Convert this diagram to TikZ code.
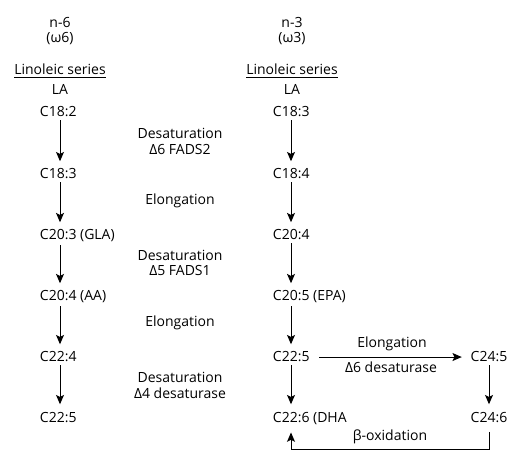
\documentclass[tikz,border=0pt]{standalone}
\usepackage{fontspec}
\setmainfont{Open Sans}
\usepackage{tikz}
\usetikzlibrary{arrows.meta}

\begin{document}
\begin{tikzpicture}[x=0.75pt, y=-0.75pt, font=\fontsize{10.5}{11.5}\selectfont]
                \tikzstyle{head} = [inner sep=2pt, anchor=base]
                \tikzstyle{acid} = [inner sep=2pt, anchor=base west]
                \tikzstyle{enzyme} = [inner sep=2pt, align=center]
                \tikzstyle{arrow} = [->, >={Stealth[length=7pt,width=6pt,inset=1.5pt]}, line width=0.75pt, shorten >=3.5pt]

                \useasboundingbox (0,0) rectangle (528,459);
                \coordinate (colL) at (60,0);
                \coordinate (colR) at (291,0);

                % n-6 series
                \node (n6) [head] at (60,28) {n-6};
                \node (w6) [head] at (60,43) {(ω6)};
                \node (serL) [head] at (60,75) {\underline{Linoleic series}};
                \node (laL) [head] at (60,95) {LA};
                \node (c182) [acid] at (37,117) {C18:2};
                \node (c183L) [acid] at (37,179) {C18:3};
                \node (c203) [acid] at (37,240) {C20:3 (GLA)};
                \node (c204L) [acid] at (37,301) {C20:4 (AA)};
                \node (c224) [acid] at (37,362) {C22:4};
                \node (c225L) [acid] at (37,422) {C22:5};

                % enzymes
                \node (des6) [enzyme] at (180,141.5) {Desaturation\\Δ6 FADS2};
                \node (elo1) [head] at (180,205) {Elongation};
                \node (des5) [enzyme] at (180,263) {Desaturation\\Δ5 FADS1};
                \node (elo2) [head] at (180,327) {Elongation};
                \node (des4) [enzyme] at (180,385.5) {Desaturation\\Δ4 desaturase};

                % n-3 series
                \node (n3) [head] at (292,28) {n-3};
                \node (w3) [head] at (292,43) {(ω3)};
                \node (serR) [head] at (292,75) {\underline{Linoleic series}};
                \node (laR) [head] at (292,95) {LA};
                \node (c183R) [acid] at (270,117) {C18:3};
                \node (c184) [acid] at (270,179) {C18:4};
                \node (c204R) [acid] at (270,240) {C20:4};
                \node (c205) [acid] at (270,301) {C20:5 (EPA)};
                \node (c225R) [acid] at (270,362) {C22:5};
                \node (c226) [acid] at (270,422) {C22:6 (DHA};
                \node (c245) [head] at (489,362) {C24:5};
                \node (c246) [head] at (489,422) {C24:6};
                \node (elo3) [head] at (392,348) {Elongation};
                \node (des6b) [head] at (391,373) {Δ6 desaturase};
                \node (beta) [head] at (390,440) {β-oxidation};

                \draw [arrow] (c182.south -| colL) -- (c183L.north -| colL);
                \draw [arrow] (c183L.south -| colL) -- (c203.north -| colL);
                \draw [arrow] (c203.south -| colL) -- (c204L.north -| colL);
                \draw [arrow] (c204L.south -| colL) -- (c224.north -| colL);
                \draw [arrow] (c224.south -| colL) -- (c225L.north -| colL);

                \draw [arrow] (c183R.south -| colR) -- (c184.north -| colR);
                \draw [arrow] (c184.south -| colR) -- (c204R.north -| colR);
                \draw [arrow] (c204R.south -| colR) -- (c205.north -| colR);
                \draw [arrow] (c205.south -| colR) -- (c225R.north -| colR);
                \draw [arrow] (c225R.south -| colR) -- (c226.north -| colR);
                \draw [arrow, shorten <=5pt, shorten >=4.5pt] (c225R.east) -- (c245.west);
                \draw [arrow] (c245.south) -- (c246.north);
                \draw [arrow, shorten >=0pt] ([yshift=-5pt]c246.south) -- ++(0,18) -| ([yshift=-4pt]c226.south -| colR);
            \end{tikzpicture}
\end{document}
